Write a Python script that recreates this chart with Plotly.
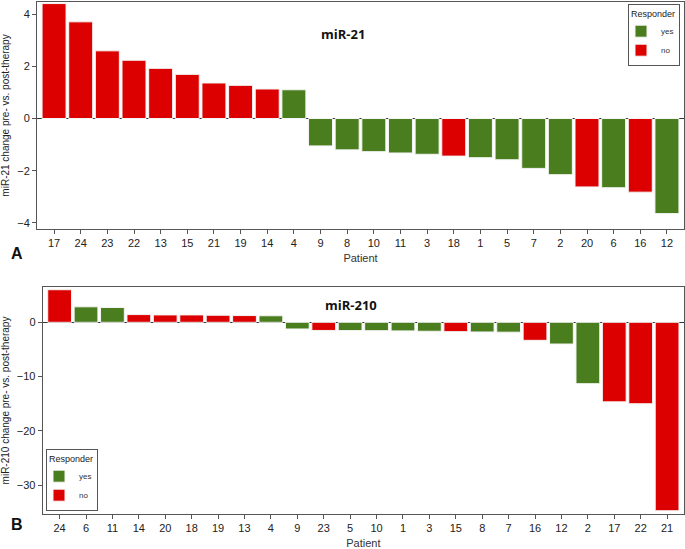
import plotly.graph_objects as go

# ---- Data ----
patients_21 = ["17", "24", "23", "22", "13", "15", "21", "19", "14", "4", "9", "8",
               "10", "11", "3", "18", "1", "5", "7", "2", "20", "6", "16", "12"]
change_21 = [4.40, 3.70, 2.59, 2.23, 1.92, 1.69, 1.36, 1.27, 1.13, 1.10, -1.05, -1.20,
             -1.27, -1.32, -1.37, -1.44, -1.50, -1.58, -1.91, -2.15, -2.62, -2.65, -2.82, -3.64]
responder_21 = ["no", "no", "no", "no", "no", "no", "no", "no", "no", "yes", "yes", "yes",
                "yes", "yes", "yes", "no", "yes", "yes", "yes", "yes", "no", "yes", "no", "yes"]

patients_210 = ["24", "6", "11", "14", "20", "18", "19", "13", "4", "9", "23", "5",
                "10", "1", "3", "15", "8", "7", "16", "12", "2", "17", "22", "21"]
change_210 = [6.0, 2.85, 2.72, 1.42, 1.36, 1.36, 1.30, 1.24, 1.20, -1.23, -1.50, -1.52,
              -1.54, -1.58, -1.65, -1.72, -1.78, -1.82, -3.32, -4.0, -11.3, -14.65, -15.0, -34.7]
responder_210 = ["no", "yes", "yes", "no", "no", "no", "no", "no", "yes", "yes", "no", "yes",
                 "yes", "yes", "yes", "no", "yes", "yes", "no", "yes", "yes", "no", "no", "no"]

groups = ["yes", "no"]
colors = {"yes": "#4a7d1e", "no": "#dc0000"}

W, H = 685, 549
FONT = "Liberation Sans, Arial, sans-serif"

fig = go.Figure()


def add_panel(pats, vals, resp, xa, ya, legend):
    for g in groups:
        xs = [p for p, r in zip(pats, resp) if r == g]
        ys = [v for v, r in zip(vals, resp) if r == g]
        fig.add_trace(go.Bar(
            x=xs, y=ys, name=g, xaxis=xa, yaxis=ya, legend=legend,
            marker=dict(color=colors[g], line=dict(color="#f4f4f4", width=1)),
            showlegend=True,
        ))


add_panel(patients_21, change_21, responder_21, "x", "y", "legend")
add_panel(patients_210, change_210, responder_210, "x2", "y2", "legend2")

axis_common = dict(
    showline=True, mirror=True, linecolor="#555", linewidth=1,
    ticks="outside", ticklen=4, tickcolor="#555", showgrid=False,
    tickfont=dict(family=FONT, size=11, color="#222"),
)

legend_common = dict(
    bgcolor="white", bordercolor="#555", borderwidth=1,
    title=dict(text="Responder", font=dict(size=9, color="#222")),
    font=dict(size=8, color="#333"), itemwidth=30, tracegroupgap=0,
    indentation=-8,
)

fig.update_layout(
    width=W, height=H,
    margin=dict(l=0, r=0, t=0, b=0),
    paper_bgcolor="white", plot_bgcolor="white",
    barmode="overlay", bargap=0.1,
    font=dict(family=FONT, color="#222"),
    xaxis=dict(domain=[37 / W, 684 / W], anchor="y", type="category",
               categoryorder="array", categoryarray=patients_21,
               range=[-0.64, 23.64],
               title=dict(text="Patient", font=dict(size=11, color="#333"), standoff=6),
               **axis_common),
    yaxis=dict(domain=[1 - 229 / H, 1 - 2 / H], anchor="x",
               range=[-4.23, 4.46], tickvals=[4, 2, 0, -2, -4],
               zeroline=True, zerolinecolor="#333", zerolinewidth=1,
               title=dict(text="miR-21 change pre- vs. post-therapy",
                          font=dict(size=10, color="#222"), standoff=8),
               **axis_common),
    xaxis2=dict(domain=[42.7 / W, 684 / W], anchor="y2", type="category",
                categoryorder="array", categoryarray=patients_210,
                range=[-0.64, 23.64],
                title=dict(text="Patient", font=dict(size=11, color="#333"), standoff=6),
                **axis_common),
    yaxis2=dict(domain=[1 - 514 / H, 1 - 287 / H], anchor="x2",
                range=[-35.3, 6.5], tickvals=[0, -10, -20, -30],
                zeroline=True, zerolinecolor="#333", zerolinewidth=1,
                title=dict(text="miR-210 change pre- vs. post-therapy",
                           font=dict(size=10, color="#222"), standoff=6),
                **axis_common),
    legend=dict(x=680 / W, y=1 - 4 / H, xanchor="right", yanchor="top", **legend_common),
    legend2=dict(x=46 / W, y=1 - 511 / H, xanchor="left", yanchor="bottom", **legend_common),
    annotations=[
        dict(text="<b>miR-21</b>", x=343 / W, y=1 - 23 / H, xref="paper", yref="paper",
             showarrow=False, font=dict(family="Open Sans, sans-serif", size=13, color="#111")),
        dict(text="<b>miR-210</b>", x=351 / W, y=1 - 305 / H, xref="paper", yref="paper",
             showarrow=False, font=dict(family="Open Sans, sans-serif", size=13, color="#111")),
        dict(text="<b>A</b>", x=9 / W, y=1 - 254 / H, xref="paper", yref="paper",
             showarrow=False, font=dict(family=FONT, size=16, color="#111")),
        dict(text="<b>B</b>", x=9 / W, y=1 - 535 / H, xref="paper", yref="paper",
             showarrow=False, font=dict(family=FONT, size=16, color="#111")),
    ],
)

fig.write_html("out.html",
               config={"displayModeBar": False},
               post_script="document.body.style.margin='0';document.body.style.overflow='hidden';")
